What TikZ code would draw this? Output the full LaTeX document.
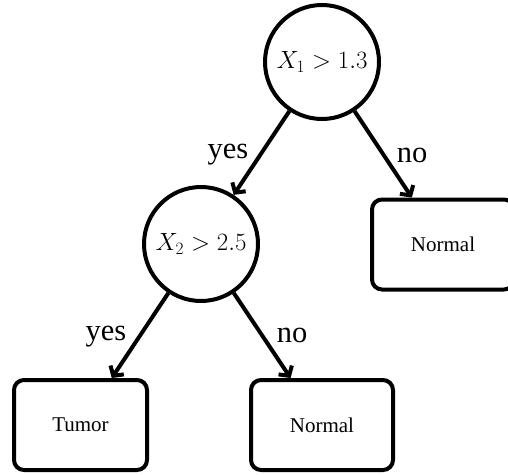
\documentclass[tikz,border=0pt]{standalone}
\usepackage{fontspec}
\setmainfont{Liberation Serif}
\usetikzlibrary{arrows.meta}
\begin{document}
\begin{tikzpicture}[x=1pt,y=-1pt,
  dec/.style={circle,draw,line width=4pt,minimum size=114pt,inner sep=0pt,font=\fontsize{24}{28}\selectfont},
  leaf/.style={draw,line width=4pt,rounded corners=10pt,minimum height=90pt,inner xsep=0pt,font=\fontsize{21}{24}\selectfont},
  lbl/.style={anchor=base,inner sep=0pt,font=\fontsize{30.5}{36}\selectfont},
  arr/.style={line width=4pt,-{Straight Barb[length=7pt,width=16pt,line width=4pt]}}]
\useasboundingbox (0,0) rectangle (508,474);
\clip (0,0) rectangle (508,474);
\node[dec] (root) at (322,62) {$X_1>1.3$};
\node[dec] (c2) at (201,244) {$X_2>2.5$};
\node[leaf,minimum width=142pt] (n1) at (443,244.5) {Normal};
\node[leaf,minimum width=133pt] (t) at (80.5,425) {Tumor};
\node[leaf,minimum width=142pt] (n2) at (322,425) {Normal};
\draw[arr] (root) -- (c2);
\draw[arr] (root) -- (n1);
\draw[arr] (c2) -- (t);
\draw[arr] (c2) -- (n2);
\node[lbl] (y1) at (228,158) {yes};
\node[lbl] (o1) at (412,162) {no};
\node[lbl] (y2) at (106,340) {yes};
\node[lbl] (o2) at (292,342) {no};
\end{tikzpicture}
\end{document}
